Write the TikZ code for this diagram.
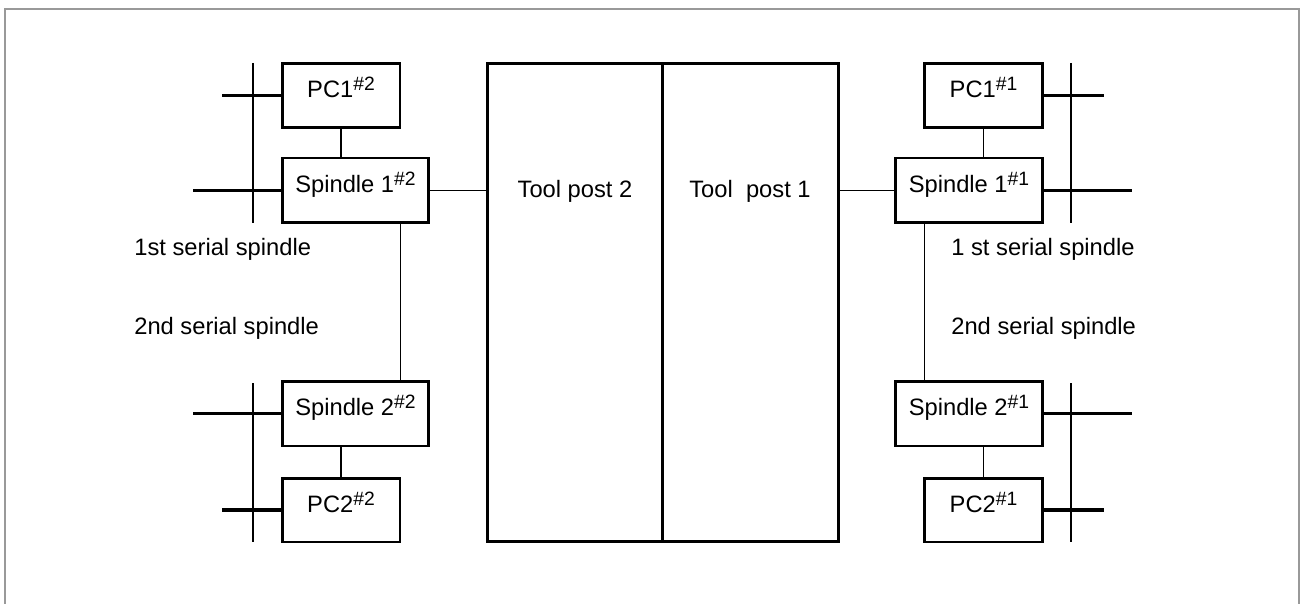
\documentclass[tikz,border=0pt]{standalone}
\usepackage{fontspec}
\setmainfont{Liberation Sans}
\usepackage{tikz}

\newcommand{\pathno}[1]{\raisebox{0.55ex}{\fontsize{11}{12}\selectfont#1}}

\begin{document}
\begin{tikzpicture}[x=0.02cm,y=-0.02cm,
  unit/.style={rectangle,draw,line width=1.7pt,inner sep=0pt,text height=0.35cm,text depth=0.26cm,font=\fontsize{13.5}{16}\selectfont},
  pcbox/.style={unit,minimum width=2.36cm,minimum height=1.28cm},
  spbox/.style={unit,minimum width=2.94cm,minimum height=1.3cm},
  postbox/.style={rectangle,draw,line width=1.7pt,minimum width=3.52cm,minimum height=9.58cm,inner sep=0pt},
  lbl/.style={font=\fontsize{13.5}{16}\selectfont,inner sep=0pt,anchor=west},
  bus/.style={line width=1.8pt},
  link/.style={line width=0.6pt}]
\useasboundingbox (0,0) rectangle (1300,604);
\draw[gray!80,line width=1.2pt] (5,604) -- (5,9) -- (1299,9) -- (1299,604);
% tool posts
\node[postbox] (tp2) at (575,302.5) {};
\node[postbox] (tp1) at (750.5,302.5) {};
\node[font=\fontsize{13.5}{16}\selectfont] (tp2txt) at (575,191) {Tool post 2};
\node[font=\fontsize{13.5}{16}\selectfont] (tp1txt) at (750,191) {Tool\ \ post 1};
% path 2 side
\node[pcbox] (pc1b) at (341,95.5) {PC1\pathno{\#2}};
\node[spbox] (sp1b) at (355.5,190.5) {Spindle 1\pathno{\#2}};
\node[spbox] (sp2b) at (355.5,413.5) {Spindle 2\pathno{\#2}};
\node[pcbox] (pc2b) at (341,510) {PC2\pathno{\#2}};
\coordinate (busb1) at (253,63);
\coordinate (busb2) at (253,223);
\coordinate (busb3) at (253,383);
\coordinate (busb4) at (253,542);
\draw[link] (busb1) -- (busb2);
\draw[link] (busb3) -- (busb4);
\draw[bus] (pc1b.west) -- ++(-59,0);
\draw[bus] (sp1b.west) -- ++(-88,0);
\draw[bus] (sp2b.west) -- ++(-88,0);
\draw[bus] (pc2b.west) -- ++(-59,0);
\draw[link] (pc1b) -- (pc1b |- sp1b.north);
\draw[link] (pc2b) -- (pc2b |- sp2b.south);
\draw[link] (sp1b.east) -- (sp1b.east -| tp2.west);
\draw[link] ([xshift=-0.6cm]sp1b.south east) -- ([xshift=-0.6cm]sp2b.north east);
\node[lbl] (ser1b) at (134,249) {1st serial spindle};
\node[lbl] (ser2b) at (134,328) {2nd serial spindle};
% path 1 side
\node[pcbox] (pc1a) at (983.5,95.5) {PC1\pathno{\#1}};
\node[spbox] (sp1a) at (969,190.5) {Spindle 1\pathno{\#1}};
\node[spbox] (sp2a) at (969,413.5) {Spindle 2\pathno{\#1}};
\node[pcbox] (pc2a) at (983.5,510) {PC2\pathno{\#1}};
\coordinate (busa1) at (1071,63);
\coordinate (busa2) at (1071,223);
\coordinate (busa3) at (1071,383);
\coordinate (busa4) at (1071,542);
\draw[link] (busa1) -- (busa2);
\draw[link] (busa3) -- (busa4);
\draw[bus] (pc1a.east) -- ++(60,0);
\draw[bus] (sp1a.east) -- ++(88,0);
\draw[bus] (sp2a.east) -- ++(88,0);
\draw[bus] (pc2a.east) -- ++(60,0);
\draw[link] (pc1a) -- (pc1a |- sp1a.north);
\draw[link] (pc2a) -- (pc2a |- sp2a.south);
\draw[link] (sp1a.west) -- (sp1a.west -| tp1.east);
\draw[link] ([xshift=0.6cm]sp1a.south west) -- ([xshift=0.6cm]sp2a.north west);
\node[lbl] (ser1a) at (951,249) {1 st serial spindle};
\node[lbl] (ser2a) at (951,328) {2nd serial spindle};
\end{tikzpicture}
\end{document}
